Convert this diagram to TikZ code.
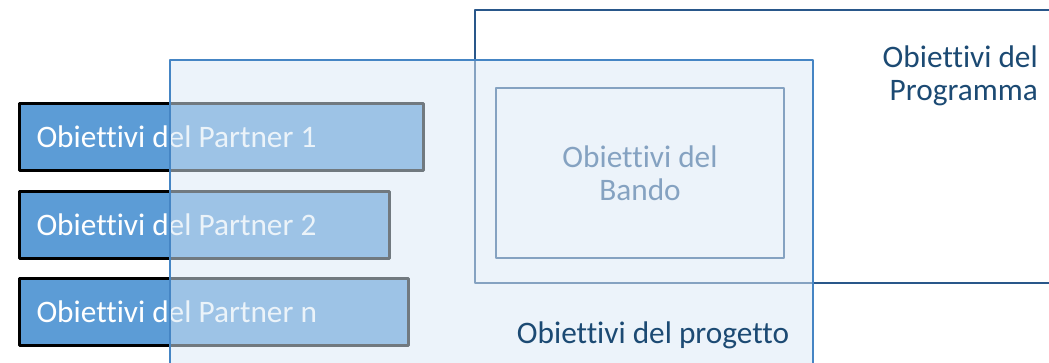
\documentclass[tikz,border=0pt]{standalone}
\usepackage{fontspec}
\setmainfont{Carlito}[Ligatures=NoCommon]
\usepackage{tikz}
\definecolor{ttqqzz}{rgb}{0.16,0.34,0.54}
\definecolor{qqttzz}{rgb}{0.11,0.29,0.45}
\definecolor{ttzzff}{rgb}{0.27,0.52,0.77}
\definecolor{zzffff}{rgb}{0.855,0.91,0.96}
\definecolor{qqzzff}{rgb}{0.36,0.61,0.84}
\tikzstyle{every node}=[font=\fontsize{31.3}{32.5}\selectfont]
\tikzset{partner/.style={draw=black,line width=3pt,fill=qqzzff,text=white,anchor=north west,minimum height=67pt,align=flush left,inner xsep=17pt,text width=#1}}

\begin{document}
\begin{tikzpicture}[line cap=round,line join=round,x=1pt,y=-1pt]
            \useasboundingbox (0,0) rectangle (1049,363);
            \draw [line width=2.8pt,color=ttqqzz] (1049,10) -- (475,10) -- (475,283) -- (1049,283);
            \node [anchor=east,align=flush right,text=qqttzz,inner sep=0pt] (prog) at (1038,76) {Obiettivi del\\Programma};
            \node [draw=ttqqzz,line width=2.8pt,minimum width=288pt,minimum height=170pt,align=flush center,text=ttqqzz] (bando) at (640,173) {Obiettivi del\\Bando};
            \node [partner=370pt] (p1) at (18,102) {Obiettivi del Partner 1};
            \node [partner=336pt] (p2) at (18,190) {Obiettivi del Partner 2};
            \node [partner=355pt] (pn) at (18,277) {Obiettivi del Partner n};
            \draw [line width=2.8pt,color=ttzzff,fill=zzffff,fill opacity=0.52] (170,366) -- (170,60) -- (813,60) -- (813,366);
            \node [text=qqttzz] (proj) at (653,335) {Obiettivi del progetto};
\end{tikzpicture}
\end{document}
